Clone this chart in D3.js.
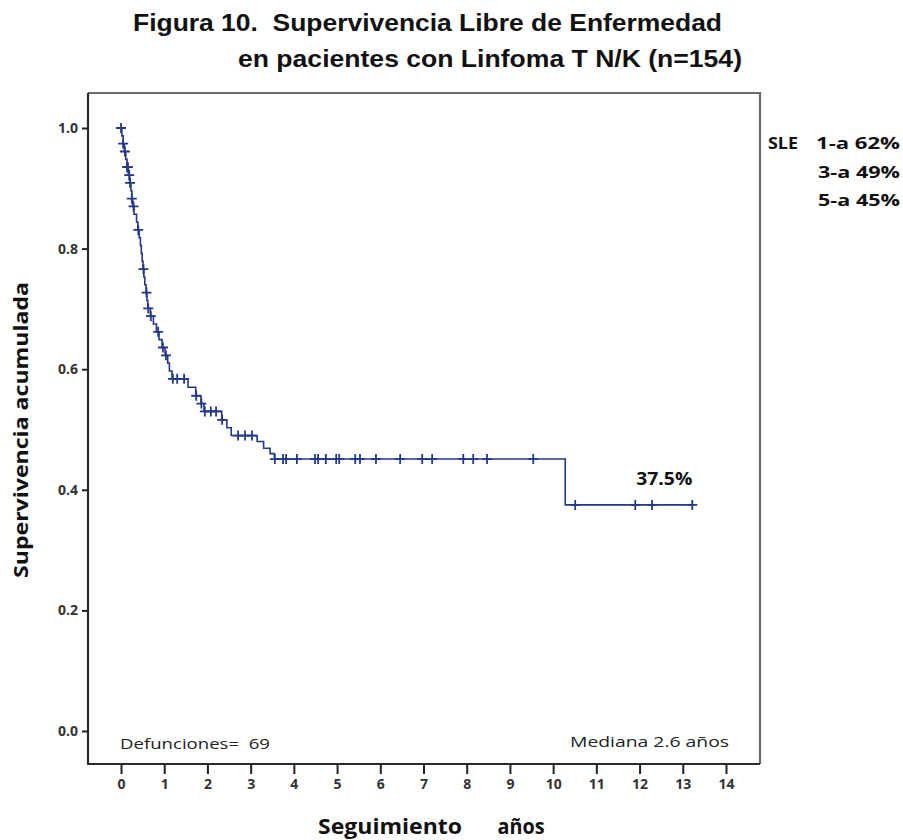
<!DOCTYPE html>
<html>
<head>
<meta charset="utf-8">
<script src="https://cdn.jsdelivr.net/npm/d3@7"></script>
<style>
  html, body { margin: 0; padding: 0; background: #fff; }
  svg { display: block; }
</style>
</head>
<body>
<svg id="chart" width="903" height="840"></svg>
<script>
// Kaplan–Meier: disease-free survival, T/NK lymphoma (n=154)
// Event times (years) and cumulative survival right after each drop
const eventTimes = [0.02, 0.05, 0.08, 0.11, 0.14, 0.17, 0.20, 0.23, 0.25, 0.27, 0.30,
  0.36, 0.39, 0.42, 0.45, 0.47, 0.49, 0.51, 0.53, 0.55, 0.58, 0.60, 0.62,
  0.68, 0.75, 0.82, 0.88, 0.95, 1.02, 1.08, 1.12, 1.18,
  1.55, 1.73, 1.85, 1.92, 2.33, 2.45, 2.55, 3.15, 3.30, 3.45, 3.55, 10.28];
const survival = [0.987, 0.974, 0.961, 0.948, 0.935, 0.922, 0.909, 0.896, 0.883, 0.870, 0.857,
  0.844, 0.831, 0.818, 0.805, 0.792, 0.779, 0.766, 0.753, 0.740, 0.727, 0.714, 0.701,
  0.688, 0.675, 0.662, 0.649, 0.636, 0.623, 0.610, 0.597, 0.584,
  0.570, 0.556, 0.543, 0.530, 0.516, 0.503, 0.490, 0.480, 0.469, 0.460, 0.451, 0.375];
// Censored follow-up times (years)
const censoredTimes = [0.0, 0.05, 0.09, 0.14, 0.16, 0.19, 0.21, 0.25, 0.29, 0.40, 0.52, 0.59, 0.63,
  0.69, 0.86, 0.97, 1.04, 1.20, 1.30, 1.46, 1.74, 1.86, 1.94, 2.08, 2.20, 2.34,
  2.71, 2.87, 3.03,
  3.56, 3.75, 3.82, 4.07, 4.49, 4.56, 4.74, 4.98, 5.05, 5.42, 5.53, 5.90, 6.46,
  6.97, 7.20, 7.92, 8.15, 8.47, 9.54,
  10.51, 11.90, 12.29, 13.22];
const xTicks = d3.range(0, 15);
const yTicks = [0.0, 0.2, 0.4, 0.6, 0.8, 1.0];
const titleLines = ["Figura 10.  Supervivencia Libre de Enfermedad",
                    "en pacientes con Linfoma T N/K (n=154)"];
const sleLabels = ["1-a 62%", "3-a 49%", "5-a 45%"];

const svg = d3.select("#chart");
const navy = "#25378c";
const frame = { left: 88, top: 93, right: 760, bottom: 764 };

const x = d3.scaleLinear().domain([0, 14]).range([121, 726]);
const y = d3.scaleLinear().domain([0, 1]).range([731, 128]);

// survival at time t (step function, right-continuous)
function survAt(t) {
  let s = 1;
  for (let i = 0; i < eventTimes.length; i++) {
    if (eventTimes[i] <= t) s = survival[i]; else break;
  }
  return s;
}

// fixed-width text helper
function label(sel, txt, opts) {
  const t = sel.append("text")
    .attr("x", opts.x).attr("y", opts.y)
    .attr("text-anchor", opts.anchor || "start")
    .style("font-family", opts.family)
    .style("font-size", opts.size + "px")
    .style("font-weight", opts.weight || "normal")
    .attr("fill", opts.fill || "#111")
    .style("white-space", "pre")
    .text(txt);
  if (opts.width) t.attr("textLength", opts.width).attr("lengthAdjust", "spacingAndGlyphs");
  if (opts.transform) t.attr("transform", opts.transform);
  return t;
}

const arial = "'Liberation Sans', Arial, sans-serif";
const sans = "'Open Sans', Lato, sans-serif";

// Title
label(svg, titleLines[0], { x: 133, y: 31, size: 24, weight: "bold", family: arial, width: 589 });
label(svg, titleLines[1], { x: 238, y: 67, size: 24, weight: "bold", family: arial, width: 504 });

// Plot frame
svg.append("path")
  .attr("d", `M${frame.left},${frame.top}H${frame.right}V${frame.bottom}`)
  .attr("fill", "none").attr("stroke", "#6a6a6a").attr("stroke-width", 2.2);
svg.append("path")
  .attr("d", `M${frame.left},${frame.top}V${frame.bottom}H${frame.right}`)
  .attr("fill", "none").attr("stroke", "#2a2a2a").attr("stroke-width", 2.2);

// Y axis
const yAxis = svg.append("g")
  .attr("transform", `translate(${frame.left},0)`)
  .call(d3.axisLeft(y).tickValues(yTicks).tickFormat(d3.format(".1f")).tickSize(6).tickPadding(4));
yAxis.select(".domain").remove();
yAxis.selectAll(".tick line").attr("stroke", "#222").attr("stroke-width", 2);
yAxis.selectAll(".tick text")
  .style("font-family", sans).style("font-size", "14px").style("font-weight", "bold")
  .attr("fill", "#333");

// X axis
const xAxis = svg.append("g")
  .attr("transform", `translate(0,${frame.bottom})`)
  .call(d3.axisBottom(x).tickValues(xTicks).tickFormat(d3.format("d")).tickSize(10).tickPadding(5));
xAxis.select(".domain").remove();
xAxis.selectAll(".tick line").attr("stroke", "#222").attr("stroke-width", 2);
xAxis.selectAll(".tick text")
  .style("font-family", sans).style("font-size", "14px").style("font-weight", "bold")
  .attr("fill", "#333");

// Axis titles
label(svg, "Supervivencia acumulada",
  { x: 0, y: 0, size: 19, weight: "bold", family: sans, width: 296, anchor: "middle",
    transform: "translate(28,430) rotate(-90)" });
label(svg, "Seguimiento", { x: 390, y: 834, size: 21, weight: "bold", family: sans, width: 144, anchor: "middle" });
label(svg, "años", { x: 521, y: 834, size: 21, weight: "bold", family: sans, width: 47, anchor: "middle" });

// KM step curve
const lastT = d3.max(censoredTimes);
const pts = [[0, 1]].concat(eventTimes.map((t, i) => [t, survival[i]]));
pts.push([lastT, survAt(lastT)]);
svg.append("path")
  .datum(pts)
  .attr("d", d3.line().x(d => x(d[0])).y(d => y(d[1])).curve(d3.curveStepAfter))
  .attr("fill", "none").attr("stroke", navy).attr("stroke-width", 1.6);

// Censor marks
svg.append("g").selectAll("path")
  .data(censoredTimes)
  .join("path")
  .attr("d", d => {
    const cx = x(d), cy = y(survAt(d));
    return `M${cx - 5},${cy}H${cx + 5}M${cx},${cy - 5}V${cy + 5}`;
  })
  .attr("stroke", navy).attr("stroke-width", 1.8).attr("fill", "none");

// Annotations
const finalS = survival[survival.length - 1];
label(svg, d3.format(".1%")(finalS),
  { x: x(lastT), y: y(finalS) - 20, size: 17, weight: "bold", family: sans, width: 56, anchor: "end" });
label(svg, "Defunciones=  69", { x: 120, y: 749, size: 14, family: sans, width: 150, fill: "#222" });
label(svg, "Mediana 2.6 años", { x: 729, y: 747, size: 14, family: sans, width: 159, anchor: "end", fill: "#222" });

// SLE legend
label(svg, "SLE", { x: 768, y: 149, size: 16, weight: "bold", family: sans, width: 30 });
svg.append("g").selectAll("text")
  .data(sleLabels)
  .join("text")
  .attr("x", 900).attr("y", (d, i) => 149 + i * 28.5)
  .attr("text-anchor", "end")
  .attr("textLength", (d, i) => i === 0 ? 84 : 82).attr("lengthAdjust", "spacingAndGlyphs")
  .style("font-family", sans).style("font-size", "16px").style("font-weight", "bold")
  .attr("fill", "#111").text(d => d);
</script>
</body>
</html>
